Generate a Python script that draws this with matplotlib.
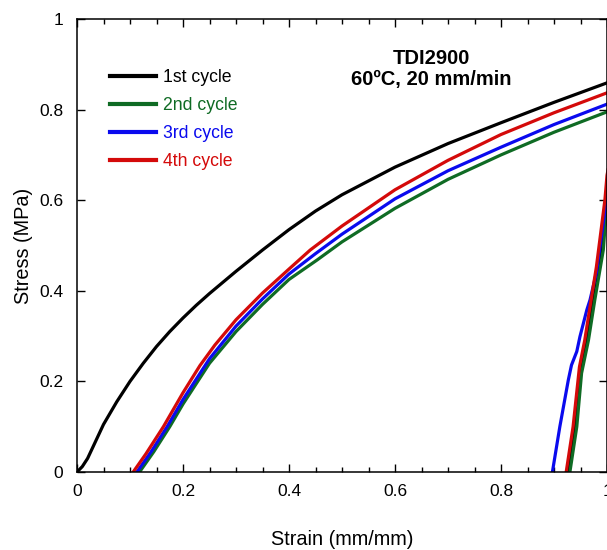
import matplotlib
matplotlib.use('Agg')

from matplotlib import pyplot as plt
from matplotlib.ticker import MultipleLocator

plt.rcParams['font.family'] = ['Liberation Sans', 'DejaVu Sans']

# loading branches
strain_1 = [0, 0.01, 0.02, 0.03, 0.05, 0.075, 0.1, 0.125, 0.15, 0.175, 0.2,
            0.225, 0.25, 0.3, 0.35, 0.4, 0.45, 0.5, 0.6, 0.7, 0.8, 0.9, 1.0]
stress_1 = [0, 0.012, 0.03, 0.055, 0.105, 0.155, 0.2, 0.24, 0.277, 0.31,
            0.34, 0.368, 0.394, 0.443, 0.49, 0.535, 0.576, 0.612, 0.673,
            0.725, 0.771, 0.816, 0.859]

strain_2 = [0.118, 0.145, 0.175, 0.2, 0.25, 0.3, 0.35, 0.4, 0.453, 0.5, 0.6,
            0.7, 0.8, 0.9, 1.0]
stress_2 = [0, 0.045, 0.1, 0.15, 0.24, 0.31, 0.37, 0.425, 0.468, 0.508,
            0.582, 0.646, 0.70, 0.75, 0.795]

strain_3 = [0.113, 0.14, 0.17, 0.2, 0.25, 0.3, 0.35, 0.4, 0.45, 0.5, 0.6,
            0.7, 0.8, 0.9, 1.0]
stress_3 = [0, 0.045, 0.1, 0.16, 0.25, 0.322, 0.382, 0.437, 0.482, 0.525,
            0.603, 0.665, 0.717, 0.767, 0.812]

strain_4 = [0.106, 0.13, 0.163, 0.2, 0.232, 0.26, 0.3, 0.35, 0.4, 0.44, 0.5,
            0.6, 0.7, 0.8, 0.9, 1.0]
stress_4 = [0, 0.04, 0.1, 0.175, 0.235, 0.28, 0.336, 0.395, 0.448, 0.49,
            0.543, 0.623, 0.688, 0.745, 0.793, 0.837]

# steep branches near strain = 1 (run past the frame)
ret_strain_1 = [0.927, 0.94, 0.95, 0.962, 0.975, 0.99, 1.0, 1.02]
ret_stress_1 = [0, 0.1, 0.22, 0.3, 0.4, 0.5, 0.58, 0.72]
ret_strain_2 = [0.930, 0.943, 0.952, 0.965, 0.977, 0.993, 1.0, 1.02]
ret_stress_2 = [0, 0.1, 0.218, 0.291, 0.38, 0.49, 0.6, 0.72]
ret_strain_3 = [0.897, 0.911, 0.927, 0.933, 0.943, 0.949, 0.962, 0.968,
                0.980, 0.999, 1.02]
ret_stress_3 = [0, 0.10, 0.203, 0.236, 0.266, 0.299, 0.358, 0.38, 0.44,
                0.60, 0.75]
ret_strain_4 = [0.923, 0.936, 0.948, 0.958, 0.968, 0.980, 0.996, 1.0, 1.02]
ret_stress_4 = [0, 0.1, 0.232, 0.291, 0.365, 0.453, 0.60, 0.655, 0.78]

labels = ['1st cycle', '2nd cycle', '3rd cycle', '4th cycle']
colors = ['#000000', '#0f6b24', '#0a0aee', '#d40a0a']


def main():
    fig = plt.figure(figsize=(6.07, 5.5), dpi=100)
    ax = fig.add_axes([77 / 607, 78 / 550, 530 / 607, 453 / 550])

    loads = [(strain_1, stress_1), (strain_2, stress_2),
             (strain_3, stress_3), (strain_4, stress_4)]
    rets = [(ret_strain_1, ret_stress_1), (ret_strain_2, ret_stress_2),
            (ret_strain_3, ret_stress_3), (ret_strain_4, ret_stress_4)]

    for (x, y), (rx, ry), lab, c in zip(loads, rets, labels, colors):
        ax.plot(x, y, color=c, lw=2.3, label=lab)
        ax.plot(rx, ry, color=c, lw=2.3)

    ax.set_xlim(0, 1)
    ax.set_ylim(0, 1)
    ax.xaxis.set_major_locator(MultipleLocator(0.2))
    ax.xaxis.set_minor_locator(MultipleLocator(0.05))
    ax.yaxis.set_major_locator(MultipleLocator(0.2))
    ax.xaxis.set_major_formatter(plt.FuncFormatter(lambda v, p: '%g' % v))
    ax.yaxis.set_major_formatter(plt.FuncFormatter(lambda v, p: '%g' % v))
    ax.tick_params(which='both', direction='in', top=True, right=True,
                   labelsize=12.5, width=1)
    ax.tick_params(which='major', length=6)
    ax.tick_params(which='minor', length=3.5)
    ax.tick_params(axis='x', which='major', pad=9)
    ax.tick_params(axis='y', which='major', pad=10)
    for s in ax.spines.values():
        s.set_linewidth(1.1)

    ax.set_xlabel('Strain (mm/mm)', fontsize=14.3, labelpad=22)
    ax.set_ylabel('Stress (MPa)', fontsize=14.3, labelpad=4)

    leg = ax.legend(loc='upper left', bbox_to_anchor=(0.045, 0.908),
                    frameon=False, fontsize=12.7, handlelength=2.65,
                    handletextpad=0.35, labelspacing=0.62, borderpad=0,
                    labelcolor='linecolor')
    for h in leg.get_lines():
        h.set_linewidth(3)

    ax.text(0.669, 0.889, 'TDI2900\n60\u00baC, 20 mm/min',
            transform=ax.transAxes, ha='center', va='center',
            fontsize=14.5, fontweight='bold', linespacing=1.13)

    fig.savefig('out.png', dpi=100)


if __name__ == '__main__':
    main()
